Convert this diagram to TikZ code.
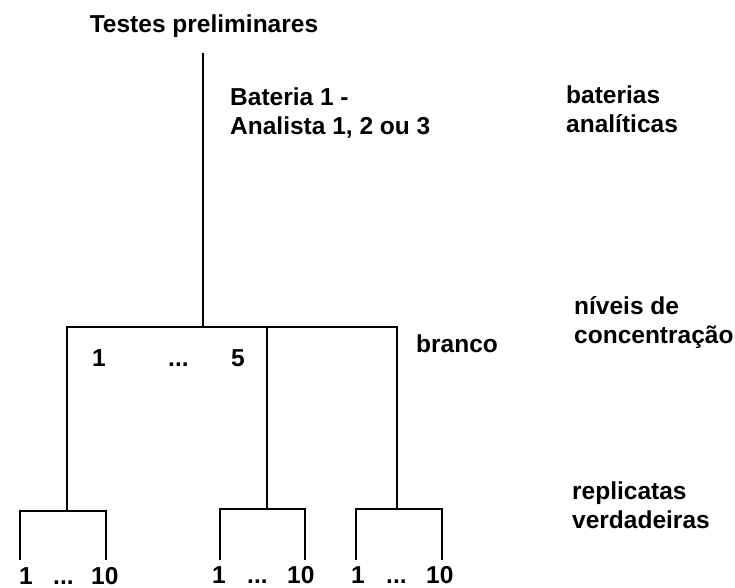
\documentclass[tikz,border=0pt]{standalone}
\usepackage{fontspec}
\setmainfont{Liberation Sans}
\begin{document}
\begin{tikzpicture}[x=1pt,y=-1pt,
  lbl/.style={anchor=base west,inner sep=0pt,font=\fontsize{24.5}{29}\selectfont\bfseries,align=left},
  branch/.style={line width=1.6pt,black}]
\useasboundingbox (0,0) rectangle (735,588);
% labels
\node[lbl,anchor=base] (root) at (204,33) {Testes preliminares};
\node[lbl] (bat) at (230,135) {Bateria 1 -\\Analista 1, 2 ou 3};
\node[lbl] (lvl1) at (566,133) {baterias\\analíticas};
\node[lbl] (lvl2) at (574,343) {níveis de\\concentração};
\node[lbl] (lvl3) at (572,528) {replicatas\\verdadeiras};
\node[lbl] (branco) at (416,352) {branco};
\node[lbl] (c1) at (92,366) {1};
\node[lbl] (cd) at (168,366) {...};
\node[lbl] (c5) at (231,366) {5};
% replicate labels
\node[lbl] (a1) at (19,584) {1};
\node[lbl] (ad) at (53,584) {...};
\node[lbl] (a10) at (91,584) {10};
\node[lbl] (b1) at (212,583) {1};
\node[lbl] (bd) at (247,583) {...};
\node[lbl] (b10) at (287,583) {10};
\node[lbl] (d1) at (351,583) {1};
\node[lbl] (dd) at (386,583) {...};
\node[lbl] (d10) at (426,583) {10};
% junction points
\coordinate (top) at (203,53);
\coordinate (j) at (203,327);
\coordinate (hl) at (67,327);
\coordinate (hm) at (267,327);
\coordinate (hr) at (397,327);
\coordinate (sl) at (67,511);
\coordinate (sm) at (267,509);
\coordinate (sr) at (397,509);
\coordinate (sll) at (20,511);
\coordinate (slr) at (106,511);
\coordinate (sml) at (220,509);
\coordinate (smr) at (305,509);
\coordinate (srl) at (356,509);
\coordinate (srr) at (442,509);
\coordinate (ell) at (20,560);
\coordinate (elr) at (106,560);
\coordinate (eml) at (220,560);
\coordinate (emr) at (305,560);
\coordinate (erl) at (356,560);
\coordinate (err) at (442,560);
% tree
\draw[branch] (top) -- (j);
\draw[branch] (sl) -- (hl) -- (hr) -- (sr);
\draw[branch] (hm) -- (sm);
\draw[branch] (ell) -- (sll) -- (slr) -- (elr);
\draw[branch] (eml) -- (sml) -- (smr) -- (emr);
\draw[branch] (erl) -- (srl) -- (srr) -- (err);
\end{tikzpicture}
\end{document}
